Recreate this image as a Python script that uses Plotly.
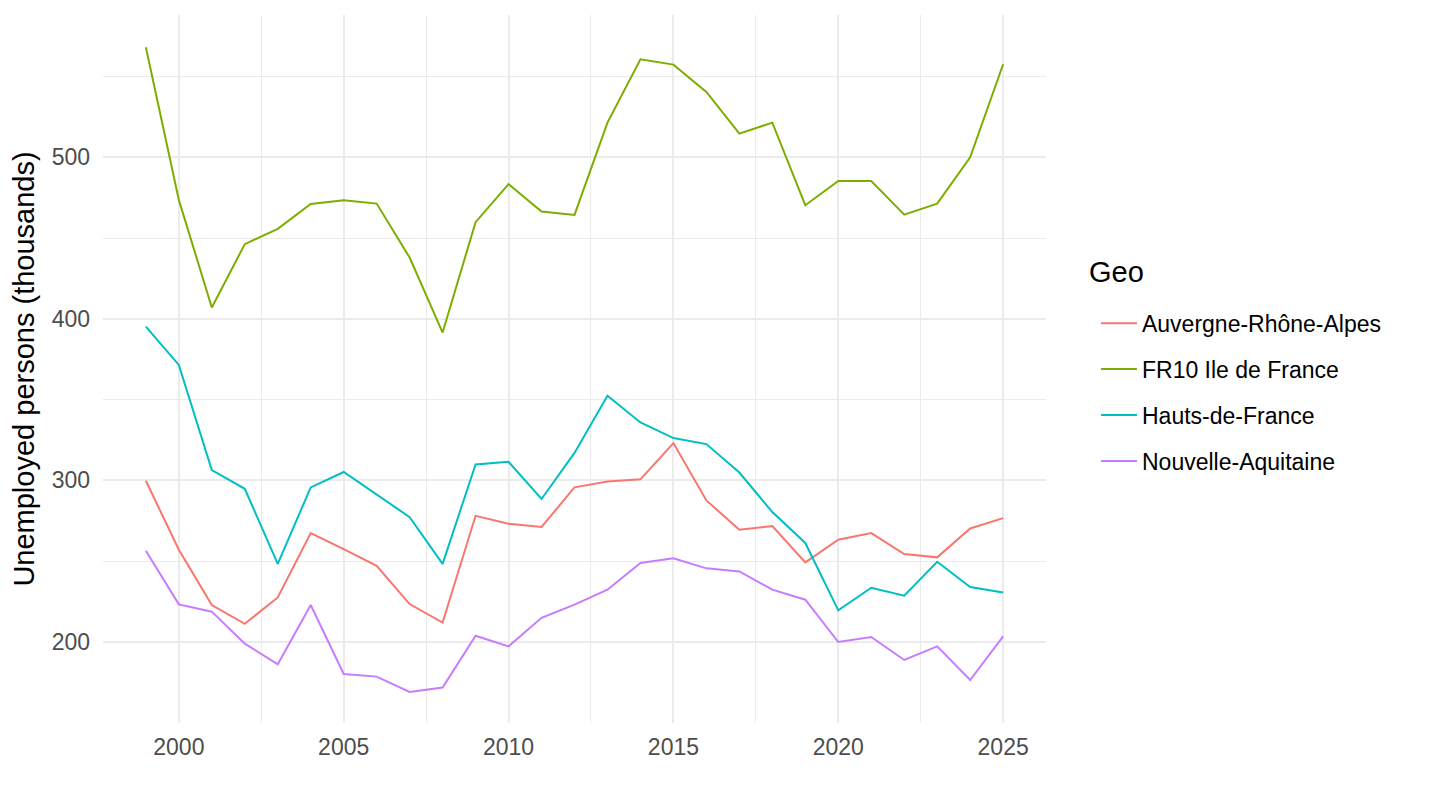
import plotly.graph_objects as go

years = list(range(1999, 2026))

auvergne = [299.8, 257.1, 222.9, 211.3, 227.6, 267.4, 257.5, 247.2, 223.5, 212.0,
            278.1, 273.2, 271.2, 295.7, 299.4, 300.7, 323.1, 287.6, 269.5, 271.8,
            249.3, 263.3, 267.4, 254.4, 252.4, 270.3, 276.7]
idf = [568.0, 473.6, 407.0, 446.2, 455.7, 471.1, 473.4, 471.3, 437.9, 391.5,
       459.8, 483.3, 466.4, 464.3, 521.4, 560.6, 557.3, 540.4, 514.6, 521.4,
       470.3, 485.3, 485.3, 464.5, 471.3, 500.0, 557.5]
hdf = [395.2, 371.5, 306.4, 294.8, 248.4, 295.7, 305.2, 291.1, 277.3, 248.4,
       309.9, 311.5, 288.5, 317.0, 352.4, 335.9, 326.2, 322.5, 304.9, 280.4,
       261.3, 219.6, 233.6, 228.7, 249.7, 234.0, 230.7]
naq = [256.5, 223.3, 218.8, 199.0, 186.2, 222.9, 180.2, 178.6, 169.1, 171.8,
       203.9, 197.3, 215.0, 223.1, 232.4, 248.9, 251.8, 245.6, 243.7, 232.4,
       226.2, 200.0, 203.1, 188.9, 197.3, 176.5, 203.5]

series_names = ["Auvergne-Rhône-Alpes", "FR10 Ile de France", "Hauts-de-France", "Nouvelle-Aquitaine"]
series_values = [auvergne, idf, hdf, naq]
colors = ["#F8766D", "#7CAE00", "#00BFC4", "#C77CFF"]

x_ticks = [2000, 2005, 2010, 2015, 2020, 2025]
y_ticks = [200, 300, 400, 500]
legend_title = "Geo"
y_title = "Unemployed persons (thousands)"

FONT = "Liberation Sans, Arial, sans-serif"

fig = go.Figure()
for name, vals, col in zip(series_names, series_values, colors):
    fig.add_trace(go.Scatter(
        x=years, y=vals, mode="lines", name=name,
        legendgroup=name,
        line=dict(color=col, width=2),
    ))

fig.add_annotation(
    text=legend_title, xref="paper", yref="paper",
    x=1.0435, y=0.637, xanchor="left", yanchor="middle",
    showarrow=False, font=dict(family=FONT, size=29, color="black"),
)

fig.update_layout(
    width=1432, height=802,
    margin=dict(l=95, r=394, t=7, b=87),
    paper_bgcolor="white", plot_bgcolor="white",
    font=dict(family=FONT, size=23, color="black"),
    showlegend=True,
    legend=dict(
        x=1.053, xanchor="left", y=0.595, yanchor="top",
        font=dict(size=23, color="black"),
        tracegroupgap=13,
        itemwidth=36,
        bgcolor="rgba(0,0,0,0)",
    ),
    xaxis=dict(
        range=[1997.7, 2026.3],
        tickvals=x_ticks, ticktext=[str(v) for v in x_ticks],
        showgrid=True, gridcolor="#EBEBEB", gridwidth=1.8,
        minor=dict(tickvals=[2002.5, 2007.5, 2012.5, 2017.5, 2022.5], showgrid=True,
                   gridcolor="#EBEBEB", gridwidth=0.9),
        zeroline=False, showline=False, ticks="",
        tickfont=dict(size=23, color="#4D4D4D"),
        ticklabelstandoff=8,
    ),
    yaxis=dict(
        range=[149.9, 588],
        tickvals=y_ticks, ticktext=[str(v) for v in y_ticks],
        showgrid=True, gridcolor="#EBEBEB", gridwidth=1.8,
        minor=dict(tickvals=[250, 350, 450, 550], showgrid=True,
                   gridcolor="#EBEBEB", gridwidth=0.9),
        zeroline=False, showline=False, ticks="",
        tickfont=dict(size=23, color="#4D4D4D"),
        ticklabelstandoff=12,
        title=dict(text=y_title, font=dict(size=29, color="black"), standoff=11),
    ),
)

fig.write_html("out.html")
